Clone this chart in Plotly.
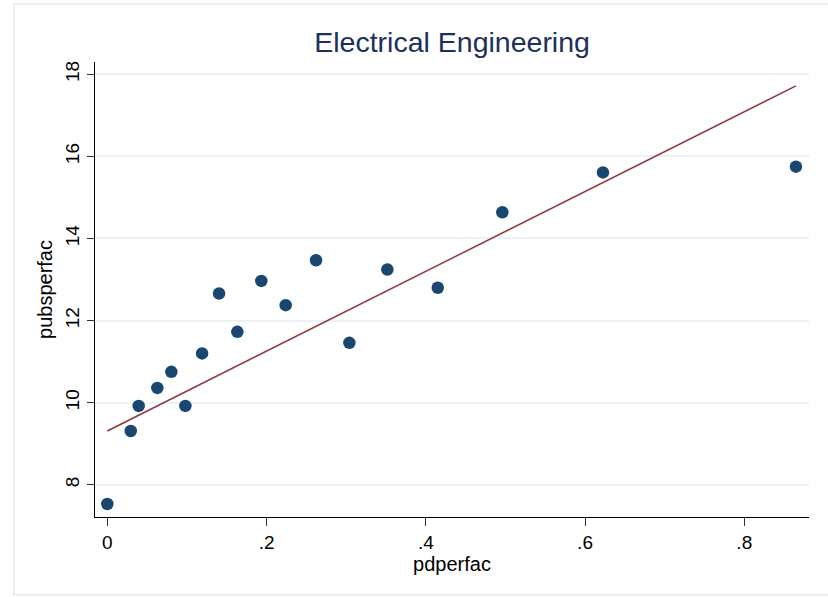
import plotly.graph_objects as go

# Data
pdperfac = [0.0, 0.0294, 0.0394, 0.0628, 0.0804, 0.098, 0.119, 0.1403, 0.1633,
            0.1934, 0.224, 0.2621, 0.304, 0.3517, 0.415, 0.4961, 0.6225, 0.8649]
pubsperfac = [7.53, 9.31, 9.92, 10.36, 10.75, 9.92, 11.20, 12.66, 11.725,
              12.967, 12.375, 13.47, 11.457, 13.245, 12.80, 14.64, 15.61, 15.75]

fit_x = [0.0, 0.8649]
fit_y = [9.31, 17.72]

x_ticks = [0, 0.2, 0.4, 0.6, 0.8]
x_ticklabels = ["0", ".2", ".4", ".6", ".8"]
y_ticks = [8, 10, 12, 14, 16, 18]
y_ticklabels = ["8", "10", "12", "14", "16", "18"]

FONT = "Liberation Sans, Arial, Helvetica, sans-serif"

fig = go.Figure()
fig.add_trace(go.Scatter(
    x=pdperfac, y=pubsperfac, mode="markers",
    marker=dict(size=12.5, color="#1a476f", line=dict(width=0)),
    showlegend=False, hoverinfo="x+y"))
fig.add_trace(go.Scatter(
    x=fit_x, y=fit_y, mode="lines",
    line=dict(color="#90353b", width=1.5),
    showlegend=False))

fig.update_layout(
    width=828, height=597,
    margin=dict(l=95, r=19, t=62, b=80),
    paper_bgcolor="white", plot_bgcolor="white",
    font=dict(family=FONT, color="#000000", size=19),
    title=dict(text="Electrical Engineering", x=0.546, xanchor="center",
               y=1 - 52 / 597, yanchor="bottom",
               font=dict(family=FONT, size=28.5, color="#1d305a")),
    xaxis=dict(range=[-0.0155, 0.8813], tickvals=x_ticks, ticktext=x_ticklabels,
               showgrid=False, zeroline=False, showline=True, linecolor="#000000",
               linewidth=1.3, ticks="outside", ticklen=8, tickwidth=1.3,
               tickcolor="#333333", tickfont=dict(size=19),
               title=dict(text="pdperfac", font=dict(size=20), standoff=4)),
    yaxis=dict(range=[7.214, 18.30], tickvals=y_ticks, ticktext=y_ticklabels,
               showgrid=True, gridcolor="#eaf2f3", gridwidth=1.5,
               zeroline=False, showline=True, linecolor="#000000", linewidth=1.3,
               ticks="outside", ticklen=7, tickwidth=1.3, tickcolor="#333333",
               tickangle=-90, tickfont=dict(size=19),
               title=dict(text="pubsperfac", font=dict(size=20), standoff=4)),
)

# light frame around the graph region (right edge falls outside the picture)
fig.add_shape(type="rect", xref="paper", yref="paper",
              x0=-(95 - 14) / 714, x1=(828 - 95 + 20) / 714,
              y0=-(595 - 517) / 455, y1=(517 - 4) / 455,
              line=dict(color="#eaf0f2", width=2), fillcolor="rgba(0,0,0,0)",
              layer="below")

fig.write_html("out.html")
